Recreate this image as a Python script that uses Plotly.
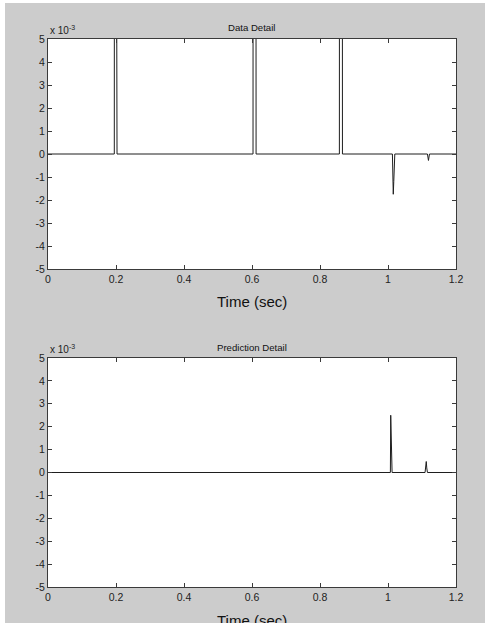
import plotly.graph_objects as go

# ---- data (seconds, raw units) ----
data_t = [0.0, 0.195, 0.196, 0.202, 0.203, 0.603, 0.604, 0.611, 0.612,
          0.857, 0.858, 0.865, 0.866, 1.013, 1.014, 1.0155, 1.017, 1.0185, 1.020,
          1.116, 1.119, 1.122, 1.2]
data_v = [0.0, 0.0, 0.05, 0.05, 0.0, 0.0, 0.05, 0.05, 0.0,
          0.0, 0.05, 0.05, 0.0, 0.0, -0.0004, -0.00175, -0.0012, -0.0004, 0.0,
          0.0, -0.00028, 0.0, 0.0]

pred_t = [0.0, 1.007, 1.008, 1.009, 1.010, 1.012, 1.109, 1.1125, 1.114, 1.116, 1.2]
pred_v = [0.0, 0.0, 0.0025, 0.0018, 0.0011, 0.0, 0.0, 0.00048, 0.0002, 0.0, 0.0]

x_ticks = [0, 0.2, 0.4, 0.6, 0.8, 1.0, 1.2]
x_tick_text = ["0", "0.2", "0.4", "0.6", "0.8", "1", "1.2"]
y_ticks = [-0.005, -0.004, -0.003, -0.002, -0.001, 0, 0.001, 0.002, 0.003, 0.004, 0.005]
y_tick_text = ["-5", "-4", "-3", "-2", "-1", "0", "1", "2", "3", "4", "5"]
titles = ["Data Detail", "Prediction Detail"]
x_label = "Time (sec)"

OX, OY = 5, 3             # white page border left / top
W, H = 485 - OX, 623 - OY
FONT = "Liberation Sans, Arial, sans-serif"
LINE = "#1e1e1e"
AX = "#3a3a3a"

# pixel geometry (figure pixels)
x0, x1 = 48 - OX, 456 - OX
panels = [(39 - OY, 269 - OY), (358 - OY, 587 - OY)]

def py(p):
    return 1 - p / H

fig = go.Figure()
fig.add_trace(go.Scatter(x=data_t, y=data_v, mode="lines",
                         line=dict(color=LINE, width=1), xaxis="x", yaxis="y",
                         showlegend=False, hoverinfo="skip"))
fig.add_trace(go.Scatter(x=pred_t, y=pred_v, mode="lines",
                         line=dict(color=LINE, width=1), xaxis="x2", yaxis="y2",
                         showlegend=False, hoverinfo="skip"))

axis_common = dict(showgrid=False, zeroline=False, showline=True, linecolor=AX,
                   linewidth=1, mirror="ticks", ticks="inside", ticklen=4,
                   tickcolor=AX, tickwidth=1, automargin=False,
                   tickfont=dict(family=FONT, size=10.5, color="#222"))

annotations = []
for i, (top, bot) in enumerate(panels):
    sfx = "" if i == 0 else "2"
    fig.update_layout(**{
        "xaxis" + sfx: dict(axis_common, domain=[x0 / W, x1 / W], range=[0, 1.2],
                            tickvals=x_ticks, ticktext=x_tick_text,
                            anchor="y" + sfx),
        "yaxis" + sfx: dict(axis_common, domain=[py(bot), py(top)],
                            range=[-0.005, 0.005], tickvals=y_ticks,
                            ticktext=y_tick_text, anchor="x" + sfx),
    })
    annotations.append(dict(text=titles[i], x=(x0 + x1) / 2 / W, y=py(top - 11),
                            xref="paper", yref="paper", showarrow=False,
                            xanchor="center", yanchor="middle",
                            font=dict(family=FONT, size=9.6, color="#111")))
    annotations.append(dict(text=x_label, x=(x0 + x1) / 2 / W, y=py(bot + 33),
                            xref="paper", yref="paper", showarrow=False,
                            xanchor="center", yanchor="middle",
                            font=dict(family=FONT, size=15, color="#111")))
    annotations.append(dict(text="x 10<sup>-3</sup>", x=x0 / W, y=py(top - 1),
                            xref="paper", yref="paper", showarrow=False,
                            xanchor="left", yanchor="bottom",
                            font=dict(family=FONT, size=10, color="#222")))

fig.update_layout(width=W, height=H, margin=dict(l=0, r=0, t=0, b=0, autoexpand=False),
                  paper_bgcolor="#cccccc", plot_bgcolor="#ffffff",
                  annotations=annotations, showlegend=False)

page_js = ("document.body.style.margin='%dpx 0 0 %dpx';"
           "document.body.style.overflow='hidden';" % (OY, OX))

fig.write_html("out.html", post_script=page_js)
